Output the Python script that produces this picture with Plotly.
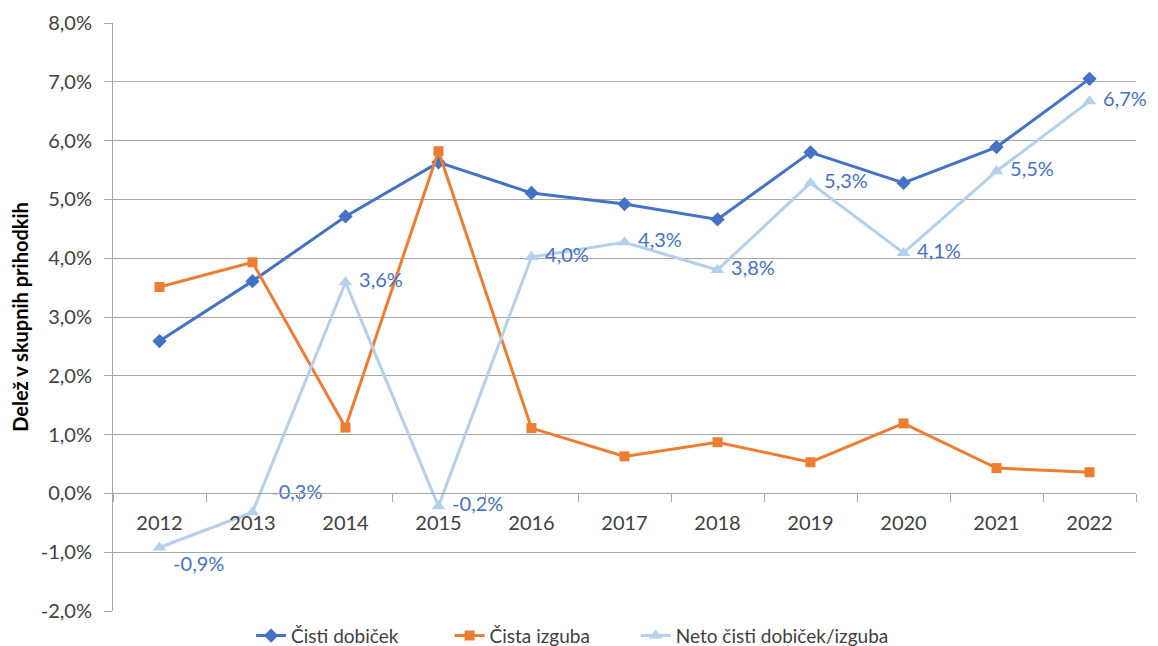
import plotly.graph_objects as go

years = ["2012", "2013", "2014", "2015", "2016", "2017", "2018", "2019", "2020", "2021", "2022"]
cisti_dobicek = [2.59, 3.61, 4.71, 5.63, 5.11, 4.92, 4.66, 5.80, 5.28, 5.89, 7.05]
cista_izguba = [3.51, 3.93, 1.12, 5.82, 1.11, 0.63, 0.87, 0.53, 1.19, 0.43, 0.36]
neto = [-0.92, -0.32, 3.59, -0.22, 4.02, 4.27, 3.80, 5.28, 4.09, 5.48, 6.67]
neto_labels = ["-0,9%", "-0,3%", "3,6%", "-0,2%", "4,0%", "4,3%", "3,8%", "5,3%", "4,1%", "5,5%", "6,7%"]
neto_pos = ["bottom right", "top right", "middle right", "middle right", "middle right",
            "middle right", "middle right", "middle right", "middle right", "middle right", "middle right"]
neto_tmpl = ["\u00a0%{text}", "\u00a0\u00a0%{text}"] + ["\u00a0%{text}"] * 9
y_ticks = [-2, -1, 0, 1, 2, 3, 4, 5, 6, 7, 8]
y_ticklabels = ["-2,0%", "-1,0%", "0,0%", "1,0%", "2,0%", "3,0%", "4,0%", "5,0%", "6,0%", "7,0%", "8,0%"]

FONT = "Lato, 'Open Sans', sans-serif"
C1 = "#4472C4"
C2 = "#ED7D31"
C3 = "#B4D0EA"

# page body adds an 8px offset; the figure is sized to compensate
W = 1150
H = 638
TOP = 15
plot_h = H - TOP
dom0 = 35 / plot_h
zero_pos = dom0 + (1 - dom0) * 0.2

fig = go.Figure()
fig.add_trace(go.Scatter(
    x=years, y=cisti_dobicek, name="Čisti dobiček", mode="lines+markers", legend="legend",
    line=dict(color=C1, width=3), marker=dict(symbol="diamond", size=11, color=C1)))
fig.add_trace(go.Scatter(
    x=years, y=cista_izguba, name="Čista izguba", mode="lines+markers", legend="legend2",
    line=dict(color=C2, width=3), marker=dict(symbol="square", size=10, color=C2)))
fig.add_trace(go.Scatter(
    x=years, y=neto, name="Neto čisti dobiček/izguba", mode="lines+markers+text", legend="legend3",
    line=dict(color=C3, width=3), marker=dict(symbol="triangle-up", size=12, color=C3),
    text=neto_labels, textposition=neto_pos, texttemplate=neto_tmpl, cliponaxis=False,
    textfont=dict(color=C1, size=20, family=FONT)))

leg = dict(orientation="h", xanchor="left", y=-0.014, yanchor="bottom",
           font=dict(size=19, color="#404040"), bgcolor="rgba(0,0,0,0)")

fig.update_layout(
    width=W, height=H,
    margin=dict(l=105, r=22, t=TOP, b=0, autoexpand=False),
    paper_bgcolor="white", plot_bgcolor="white",
    font=dict(family=FONT, size=20, color="#404040"),
    showlegend=True,
    legend=dict(leg, x=0.135),
    legend2=dict(leg, x=0.329),
    legend3=dict(leg, x=0.511),
    xaxis=dict(
        type="category", range=[-0.5, 10.5], anchor="free", position=zero_pos,
        showline=True, linecolor="#A6A6A6", linewidth=1,
        ticks="outside", tickson="boundaries", ticklen=8, tickcolor="#A6A6A6",
        showgrid=False, zeroline=False, automargin=False,
        ticklabelstandoff=12,
        tickfont=dict(size=20, color="#404040")),
    yaxis=dict(
        range=[-2, 8], domain=[dom0, 1], tickvals=y_ticks, ticktext=y_ticklabels,
        showgrid=True, gridcolor="#A6A6A6", gridwidth=1,
        showline=True, linecolor="#A6A6A6", linewidth=1,
        ticks="outside", ticklen=8, tickcolor="#A6A6A6",
        zeroline=False, automargin=False, ticklabelstandoff=8,
        tickfont=dict(size=20, color="#404040"),
        title=dict(text="<b>Delež v skupnih prihodkih</b>", font=dict(size=20, color="black"), standoff=6)),
)

fig.write_html("out.html")
